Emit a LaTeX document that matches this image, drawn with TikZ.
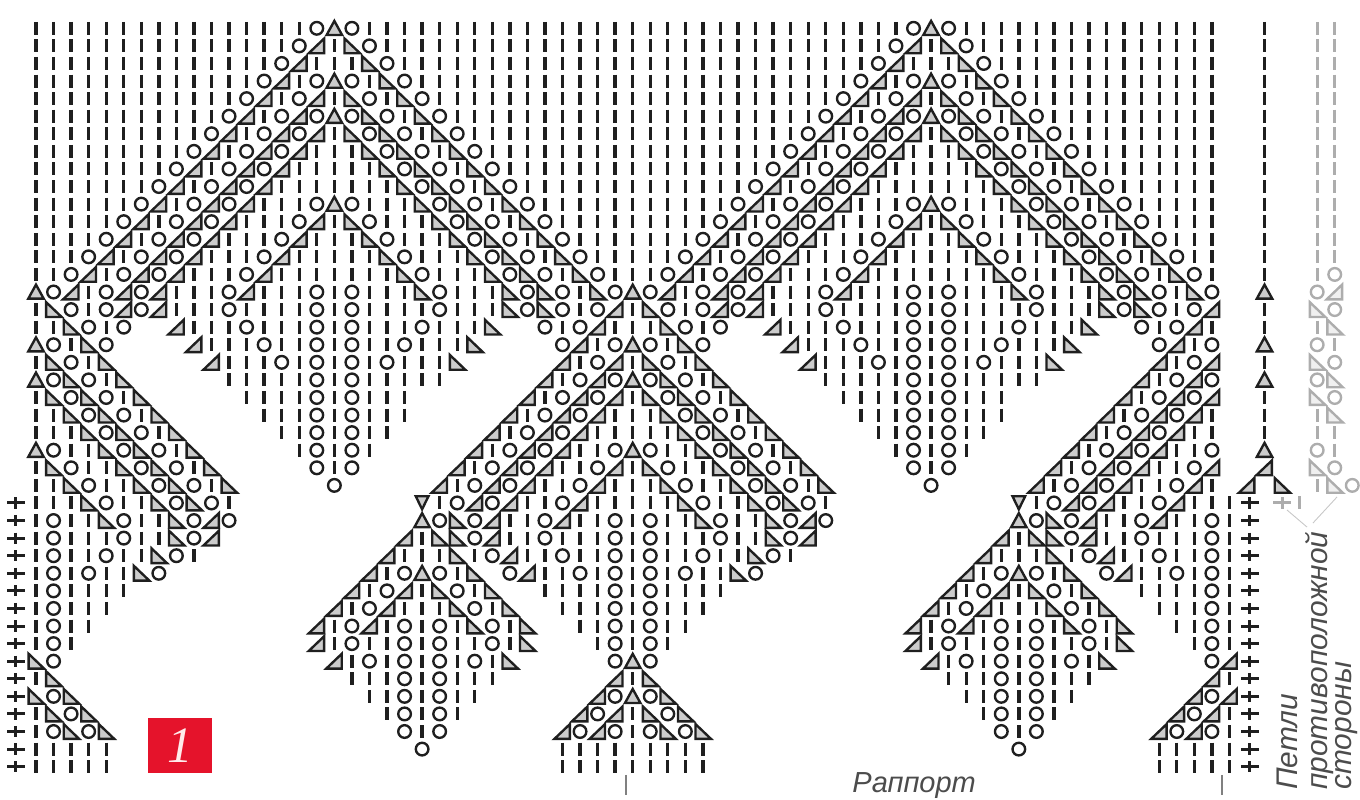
\documentclass[tikz,border=0pt]{standalone}
\usepackage{fontspec}
\setsansfont{Liberation Sans}
\newfontfamily\badgefont{Liberation Serif}
\definecolor{badgered}{HTML}{E5132B}
\colorlet{trifill}{black!20}
\tikzset{
  stitch/.style={line width=1.35pt,line join=miter},
  barstitch/.style={line width=1.9pt},
  plusstitch/.style={line width=1.7pt},
  sidelabel/.style={font=\sffamily\itshape\fontsize{17}{17}\selectfont,text=black!70,inner sep=0pt,rotate=90,anchor=base west},
  repeatmark/.style={line width=1pt,black!50}
}
\newcount\colno
\newcommand\kniti{\draw[barstitch,shift={(\the\colno,\rownum)}] (0,-.37) -- (0,.37);}
\newcommand\knito{\draw[stitch,shift={(\the\colno,\rownum)}] (0,0) circle (.36);}
\newcommand\knitl{\draw[stitch,fill=trifill,shift={(\the\colno,\rownum)}] (-.46,.42) -- (.42,.42) -- (.42,-.42) -- cycle;}
\newcommand\knitr{\draw[stitch,fill=trifill,shift={(\the\colno,\rownum)}] (.46,.42) -- (-.42,.42) -- (-.42,-.42) -- cycle;}
\newcommand\knita{\draw[stitch,fill=trifill,shift={(\the\colno,\rownum)}] (-.44,.38) -- (.44,.38) -- (0,-.42) -- cycle;}
\newcommand\knitv{\draw[stitch,fill=trifill,shift={(\the\colno,\rownum)}] (-.36,-.38) -- (.36,-.38) -- (0,.36) -- cycle;}
\newcommand\knitp{\draw[plusstitch,shift={(\the\colno,\rownum)}] (-.5,0) -- (.5,0) (0,-.32) -- (0,.32);}
\newcommand\knitx{}
\def\knitnext#1{\ifx#1\relax\else\csname knit#1\endcsname\advance\colno by 1\relax\expandafter\knitnext\fi}
\newcommand\knitrow[2]{\colno=#1\relax\expandafter\knitnext#2\relax}
\begin{document}
\begin{tikzpicture}[x=0.351cm,y=-0.3516cm,color=black!88]
  \useasboundingbox (-2.051,-1.61) rectangle (75.44,43.84);
  % the chart, one rapport per row, drawn twice
  \foreach \stitches [count=\rownum from 0] in {
    iiiiiiiiiiiiiiiio aoiiiiiiiiiiiiiii,
    iiiiiiiiiiiiiiiol iroiiiiiiiiiiiiii,
    iiiiiiiiiiiiiioli iiroiiiiiiiiiiiii,
    iiiiiiiiiiiiiolio aoiroiiiiiiiiiiii,
    iiiiiiiiiiiioliol iroiroiiiiiiiiiii,
    iiiiiiiiiiioliolo aoroiroiiiiiiiiii,
    iiiiiiiiiioliolol iroroiroiiiiiiiii,
    iiiiiiiiioliololi iiroroiroiiiiiiii,
    iiiiiiiioliololii iiiroroiroiiiiiii,
    iiiiiiioliololiii iiiiroroiroiiiiii,
    iiiiiioliololiiio aoiiiroroiroiiiii,
    iiiiioliololiiiol iroiiiroroiroiiii,
    iiiioliololiiioli iiroiiiroroiroiii,
    iiioliololiiiolii iiiroiiiroroiroii,
    iioliololiiioliii iiiiroiiiroroiroi,
    aoliololiiioliiio ioiiiroiiiroroiro,
    iroiololiiioiiiio ioiiiioiiiroroiol,
    iiroioxxliiioiiio ioiiioiiirxxoioli,
    aoiroxxxxliiioiio ioiioiiirxxxxolio,
    iroirxxxxxliiioio ioioiiirxxxxxliol,
    aoroirxxxxxiiiiio ioiiiiixxxxxliolo,
    iroroirxxxxxiiiio ioiiixxxxxxliolol,
    iiroroirxxxxxiiio ioiiixxxxxliololi,
    iiiroroirxxxxxiio ioiixxxxxliololii,
    aoiiroroirxxxxxio ioixxxxxliololiio,
    iroiiroroirxxxxxo ioxxxxxliololiiol,
    iiroiiroroirxxxxx oxxxxxliololiioli,
    iiiroiiroroixxxxx xxxxxviololiiolii,
    ioiiroiiroloxxxxx xxxxxaoroliioliio,
    ioiiioiirolxxxxxx xxxxlirroliioiiio,
    ioiioiiroixxxxxxx xxxliiirioliioiio,
    ioioiiroxxxxxxxxx xxlioaoirxoliioio,
    ioiiiixxxxxxxxxxx xlioliroirxxiiiio,
    ioiiixxxxxxxxxxxx lioliiiroirxxiiio,
    ioiixxxxxxxxxxxxl iolioioiroirxxiio,
    ioixxxxxxxxxxxxxl ioiioioiioirxxxio,
    xoxxxxxxxxxxxxxxx lioioioioirxxxxxo,
    irxxxxxxxxxxxxxxx xiiioioiiixxxxxxl,
    xorxxxxxxxxxxxxxx xxiioioiixxxxxxlo,
    irorxxxxxxxxxxxxx xxxioioixxxxxxlol,
    iororxxxxxxxxxxxx xxxxoioxxxxxxlolo,
    iiiiixxxxxxxxxxxx xxxxxoxxxxxxxiiii,
    iiiiixxxxxxxxxxxx xxxxxxxxxxxxxiiii
  } {
    \knitrow{0}{\stitches}
    \knitrow{34}{\stitches}
  }
  % edge columns of the lower rows
  \foreach \rownum in {36,38} {
    \colno=0 \knitr
    \colno=34 \knita
    \colno=68 \knitl
  }
  \colno=68
  \foreach \rownum in {27,...,35,37,39,40,41,42} {\kniti}
  \foreach \rownum in {27,...,42} {
    \draw[plusstitch,shift={(-1.14,\rownum)}] (-.5,0) -- (.5,0) (0,-.32) -- (0,.32);
    \draw[plusstitch,shift={(69.17,\rownum)}] (-.5,0) -- (.5,0) (0,-.32) -- (0,.32);
  }
  % side column
  \colno=70
  \foreach \rownum in {0,...,14,16,17,19,21,22,23} {\kniti}
  \foreach \rownum in {15,18,20,24} {\knita}
  \def\rownum{25} \knitl
  \def\rownum{26}
  \colno=69 \knitl
  \colno=71 \knitr
  % stitches of the opposite side
  \begin{scope}[color=black!32]
    \colorlet{trifill}{black!6}
    \foreach \stitches [count=\rownum from 14] in {
      io,ol,ro,ir,oi,ro,or,ro,ir,ii,oi,ro
    } {\knitrow{73}{\stitches}}
    \foreach \rownum in {0,...,13} {\knitrow{73}{ii}}
    \def\rownum{26}
    \knitrow{73}{iro}
    \def\rownum{27}
    \knitrow{71}{pi}
    \draw[line width=.5pt,black!22] (71.28,27.4) -- (72.42,28.37) (74.13,26.66) -- (72.76,28.14);
  \end{scope}
  \draw[repeatmark] (33.62,42.47) -- (33.62,43.6);
  \draw[repeatmark] (67.58,42.47) -- (67.58,43.6);
  \node[fill=badgered,minimum width=1.28cm,minimum height=1.1cm,inner sep=0pt,text=red!8,font=\badgefont\itshape\fontsize{29}{29}\selectfont] (badge) at (8.2,40.8) {1};
  \node[sidelabel] (loops) at (71.85,43.33) {Петли};
  \node[sidelabel] (opposite) at (73.56,43.33) {противоположной};
  \node[sidelabel] (side) at (74.98,43.33) {стороны};
  \node[font=\sffamily\itshape\fontsize{16.5}{16.5}\selectfont,text=black!70,inner sep=0pt,anchor=base west] (rapport) at (46.5,43.45) {Раппорт};
\end{tikzpicture}
\end{document}
